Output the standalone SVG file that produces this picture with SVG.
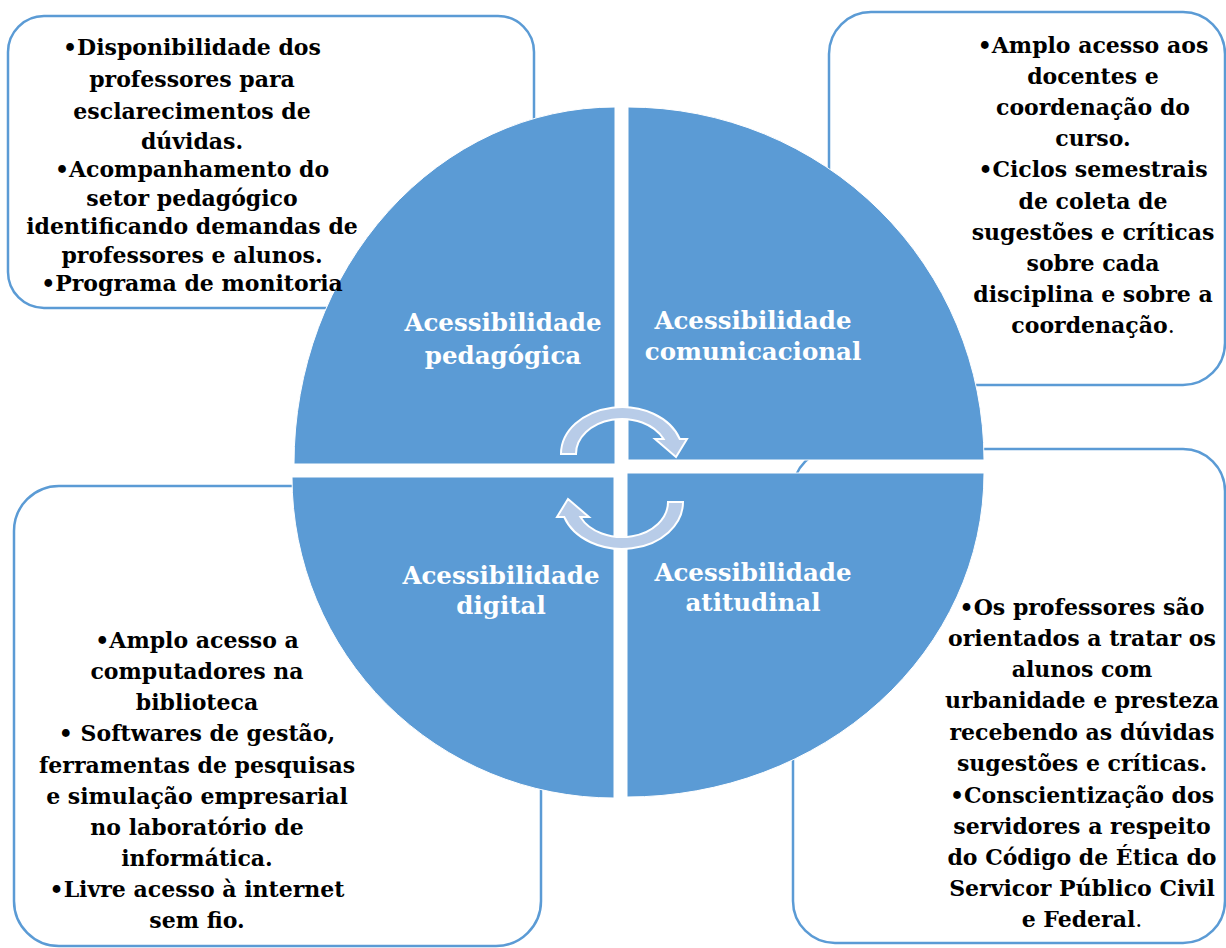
<svg xmlns="http://www.w3.org/2000/svg" width="1226" height="948" viewBox="0 0 1226 948">
<style>
.box{fill:#ffffff;stroke:#5B9BD5;stroke-width:2.5}
.quad{fill:#5B9BD5;stroke:#ffffff;stroke-width:1}
.arr{fill:#B8CCE8;stroke:#ffffff;stroke-width:2}
.bt{font-family:"DejaVu Serif","Liberation Serif",serif;font-weight:bold;font-size:22px;fill:#000000;text-anchor:middle}
.ql{font-family:"DejaVu Serif","Liberation Serif",serif;font-weight:bold;font-size:24.5px;fill:#ffffff;text-anchor:middle}
.np{font-weight:normal}
</style>
<rect width="1226" height="948" fill="#ffffff"/>
<g id="box-pedagogica"><rect class="box" x="8" y="16" width="526" height="292" rx="36"/></g>
<g id="box-comunicacional"><rect class="box" x="829" y="12" width="396" height="373" rx="42"/></g>
<g id="box-digital"><rect class="box" x="14" y="486" width="527" height="460" rx="45"/></g>
<g id="box-atitudinal"><rect class="box" x="793" y="449" width="432" height="494" rx="42"/></g>

<g id="quad-pedagogica"><path class="quad" d="M615,464 L294,464 A321,357 0 0 1 615,107 Z"/>
<text class="ql" x="503" y="331">Acessibilidade</text><text class="ql" x="503" y="364">pedagógica</text></g>
<g id="quad-comunicacional"><path class="quad" d="M628,460 L628,107 A356,353 0 0 1 984,460 Z"/>
<text class="ql" x="753" y="329">Acessibilidade</text><text class="ql" x="753" y="360">comunicacional</text></g>
<g id="quad-digital"><path class="quad" d="M614,477 L614,798 A322,321 0 0 1 292,477 Z"/>
<text class="ql" x="501" y="584">Acessibilidade</text><text class="ql" x="501" y="614">digital</text></g>
<g id="quad-atitudinal"><path class="quad" d="M627,473 L984,473 A357,324 0 0 1 627,797 Z"/>
<text class="ql" x="753" y="581">Acessibilidade</text><text class="ql" x="753" y="611">atitudinal</text></g>

<g id="connectors">
<path id="arrow-top" class="arr" d="M561,454 A61,47 0 0 1 679.8,439 L687,439 L676,457 L655,439 L663.6,439 A46,35 0 0 0 576,454 Z"/>
<path id="arrow-bottom" class="arr" transform="rotate(180 622 478)" d="M561,454 A61,47 0 0 1 679.8,439 L687,439 L676,457 L655,439 L663.6,439 A46,35 0 0 0 576,454 Z"/>
</g>

<g id="text-pedagogica">
<text class="bt" x="192" y="55">•Disponibilidade dos</text>
<text class="bt" x="192" y="87">professores para</text>
<text class="bt" x="192" y="119">esclarecimentos de</text>
<text class="bt" x="192" y="149">dúvidas.</text>
<text class="bt" x="192" y="177">•Acompanhamento do</text>
<text class="bt" x="192" y="206">setor pedagógico</text>
<text class="bt" x="192" y="234">identificando demandas de</text>
<text class="bt" x="192" y="263">professores e alunos.</text>
<text class="bt" x="192" y="291">•Programa de monitoria</text>
</g>
<g id="text-comunicacional">
<text class="bt" x="1093" y="53">•Amplo acesso aos</text>
<text class="bt" x="1093" y="84">docentes e</text>
<text class="bt" x="1093" y="115">coordenação do</text>
<text class="bt" x="1093" y="146">curso.</text>
<text class="bt" x="1093" y="177">•Ciclos semestrais</text>
<text class="bt" x="1093" y="209">de coleta de</text>
<text class="bt" x="1093" y="240">sugestões e críticas</text>
<text class="bt" x="1093" y="271">sobre cada</text>
<text class="bt" x="1093" y="302">disciplina e sobre a</text>
<text class="bt" x="1093" y="333">coordenação<tspan class="np">.</tspan></text>
</g>
<g id="text-digital">
<text class="bt" x="197" y="648">•Amplo acesso a</text>
<text class="bt" x="197" y="679">computadores na</text>
<text class="bt" x="197" y="710">biblioteca</text>
<text class="bt" x="197" y="741">• Softwares de gestão,</text>
<text class="bt" x="197" y="773">ferramentas de pesquisas</text>
<text class="bt" x="197" y="804">e simulação empresarial</text>
<text class="bt" x="197" y="835">no laboratório de</text>
<text class="bt" x="197" y="866">informática.</text>
<text class="bt" x="197" y="897">•Livre acesso à internet</text>
<text class="bt" x="197" y="928">sem fio.</text>
</g>
<g id="text-atitudinal">
<text class="bt" x="1082" y="615">•Os professores são</text>
<text class="bt" x="1082" y="646">orientados a tratar os</text>
<text class="bt" x="1082" y="677">alunos com</text>
<text class="bt" x="1082" y="708">urbanidade e presteza</text>
<text class="bt" x="1082" y="740">recebendo as dúvidas</text>
<text class="bt" x="1082" y="771">sugestões e críticas.</text>
<text class="bt" x="1082" y="803">•Conscientização dos</text>
<text class="bt" x="1082" y="834">servidores a respeito</text>
<text class="bt" x="1082" y="865">do Código de Ética do</text>
<text class="bt" x="1082" y="896">Servicor Público Civil</text>
<text class="bt" x="1082" y="927">e Federal<tspan class="np">.</tspan></text>
</g>
</svg>
